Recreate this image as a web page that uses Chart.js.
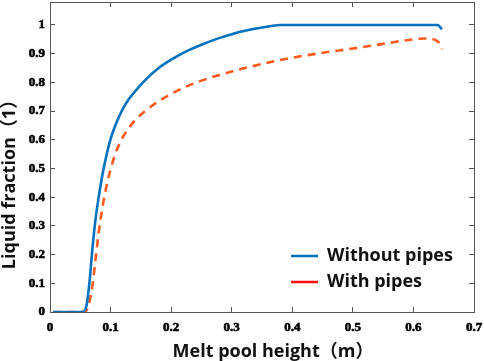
<!DOCTYPE html>
<html>
<head>
<meta charset="utf-8">
<script src="https://cdn.jsdelivr.net/npm/chart.js@4"></script>
<style>
html,body{margin:0;padding:0;background:#fff;}
canvas{display:block;}
</style>
</head>
<body>
<canvas id="c" width="484" height="361"></canvas>
<script>
// ---- data ----
const meltHeight = [0.005, 0.02, 0.04, 0.053, 0.06, 0.065, 0.07, 0.075, 0.08, 0.085, 0.09, 0.095, 0.1, 0.105, 0.11, 0.12, 0.13, 0.14, 0.16, 0.18, 0.2, 0.22, 0.25, 0.28, 0.3, 0.32, 0.35, 0.38, 0.4, 0.45, 0.5, 0.55, 0.6, 0.62, 0.64, 0.647];
const withoutPipes = [0, 0, 0, 0, 0.02, 0.1, 0.22, 0.32, 0.395, 0.46, 0.515, 0.562, 0.602, 0.634, 0.661, 0.707, 0.741, 0.768, 0.814, 0.851, 0.879, 0.903, 0.931, 0.955, 0.968, 0.979, 0.991, 1.0, 1.0, 1.0, 1.0, 1.0, 1.0, 1.0, 1.0, 0.985];
const withPipes = [0, 0, 0, 0, 0.005, 0.035, 0.09, 0.18, 0.27, 0.345, 0.405, 0.455, 0.497, 0.533, 0.563, 0.608, 0.641, 0.667, 0.705, 0.735, 0.76, 0.781, 0.806, 0.826, 0.838, 0.849, 0.864, 0.878, 0.886, 0.903, 0.918, 0.934, 0.95, 0.953, 0.943, 0.916];
const seriesNames = ['Without pipes', 'With pipes'];
const xTickValues = [0, 0.1, 0.2, 0.3, 0.4, 0.5, 0.6, 0.7];
const yTickValues = [0, 0.1, 0.2, 0.3, 0.4, 0.5, 0.6, 0.7, 0.8, 0.9, 1];
const xTitle = 'Melt pool height（m）';
const yTitle = 'Liquid fraction（1）';

// ---- styling ----
const blue = '#0072BD';
const orange = '#FF5A1E';
const legendColors = [blue, '#FF1010'];
const axisColor = '#555555';
const titleFont = 'bold 18px "Open Sans", "Noto Sans CJK SC", sans-serif';
const tickFont = {family: '"Liberation Serif", "Times New Roman", serif', size: 13, weight: 'bold'};

const toPoints = (ys) => ys.map((y, i) => ({x: meltHeight[i], y}));
const fmt = (v) => String(Math.round(v * 10) / 10);

const moveLegend = {
  id: 'moveLegend',
  afterLayout(chart) {
    const l = chart.legend, ca = chart.chartArea;
    if (!l) return;
    const h = l.height, w = l.width;
    l.left = ca.right - 191;
    l.top = ca.bottom - 73;
    l.right = l.left + w;
    l.bottom = l.top + h;
  }
};

const axisTitles = {
  id: 'axisTitles',
  afterDraw(chart) {
    const ctx = chart.ctx, ca = chart.chartArea;
    ctx.save();
    ctx.fillStyle = '#111';
    ctx.font = titleFont;
    ctx.textAlign = 'center';
    ctx.textBaseline = 'middle';
    ctx.fillText(xTitle, (ca.left + ca.right) / 2 + 11, ca.bottom + 40);
    ctx.translate(ca.left - 40, (ca.top + ca.bottom) / 2 + 23);
    ctx.rotate(-Math.PI / 2);
    ctx.fillText(yTitle, 0, 0);
    ctx.restore();
  }
};

const noPad = (s) => { s.paddingLeft = 0; s.paddingRight = 0; s.paddingTop = 0; s.paddingBottom = 0; };

const boxAxis = (pos, min, max, ticksArr) => ({
  type: 'linear', position: pos, min, max,
  afterBuildTicks: (s) => { s.ticks = ticksArr.map(v => ({value: v})); },
  afterFit: (s) => { if (pos === 'top') s.height = 0; else s.width = 0; noPad(s); },
  ticks: {display: false},
  grid: {drawOnChartArea: false, drawTicks: true, tickLength: -5, color: axisColor, tickColor: axisColor, lineWidth: 1},
  border: {display: true, color: axisColor, width: 1}
});

const tickOpts = {font: tickFont, color: '#000', textStrokeColor: '#000', textStrokeWidth: 0.6, callback: (v) => fmt(v), autoSkip: false};

new Chart(document.getElementById('c'), {
  type: 'line',
  data: {
    datasets: [
      {label: seriesNames[0], data: toPoints(withoutPipes), borderColor: blue, backgroundColor: blue, borderWidth: 2.6, pointRadius: 0, cubicInterpolationMode: 'monotone', fill: false},
      {label: seriesNames[1], data: toPoints(withPipes), borderColor: orange, backgroundColor: orange, borderWidth: 2.6, borderDash: [8, 6], pointRadius: 0, cubicInterpolationMode: 'monotone', fill: false}
    ]
  },
  options: {
    responsive: false,
    animation: false,
    devicePixelRatio: 1,
    layout: {padding: {top: 2, right: 10, left: 0, bottom: 0}},
    plugins: {
      tooltip: {enabled: false},
      legend: {
        position: 'chartArea',
        align: 'start',
        labels: {
          usePointStyle: true,
          pointStyleWidth: 27,
          padding: 8,
          color: '#111',
          font: {family: '"Open Sans", "Noto Sans", sans-serif', size: 18, weight: 'bold'},
          generateLabels: (chart) => seriesNames.map((name, i) => ({
            text: name, strokeStyle: legendColors[i], fillStyle: legendColors[i],
            lineWidth: 2.6, pointStyle: 'line', lineDash: [], hidden: false, datasetIndex: i, fontColor: '#111'
          }))
        }
      }
    },
    scales: {
      x: {
        type: 'linear', position: 'bottom', min: 0, max: 0.7,
        afterBuildTicks: (s) => { s.ticks = xTickValues.map(v => ({value: v})); },
        afterFit: (s) => { s.height = 49; noPad(s); },
        ticks: Object.assign({}, tickOpts, {padding: 13, maxRotation: 0}),
        grid: {drawOnChartArea: false, drawTicks: true, tickLength: -5, color: axisColor, tickColor: axisColor},
        border: {display: true, color: axisColor, width: 1},
        title: {display: false}
      },
      y: {
        type: 'linear', position: 'left', min: 0, max: 1.08,
        afterBuildTicks: (s) => { s.ticks = yTickValues.map(v => ({value: v})); },
        afterFit: (s) => { s.width = 50; noPad(s); },
        ticks: Object.assign({}, tickOpts, {padding: 10}),
        grid: {drawOnChartArea: false, drawTicks: true, tickLength: -5, color: axisColor, tickColor: axisColor},
        border: {display: true, color: axisColor, width: 1},
        title: {display: false}
      },
      x2: boxAxis('top', 0, 0.7, xTickValues),
      y2: boxAxis('right', 0, 1.08, yTickValues)
    }
  },
  plugins: [moveLegend, axisTitles]
});
</script>
</body>
</html>
